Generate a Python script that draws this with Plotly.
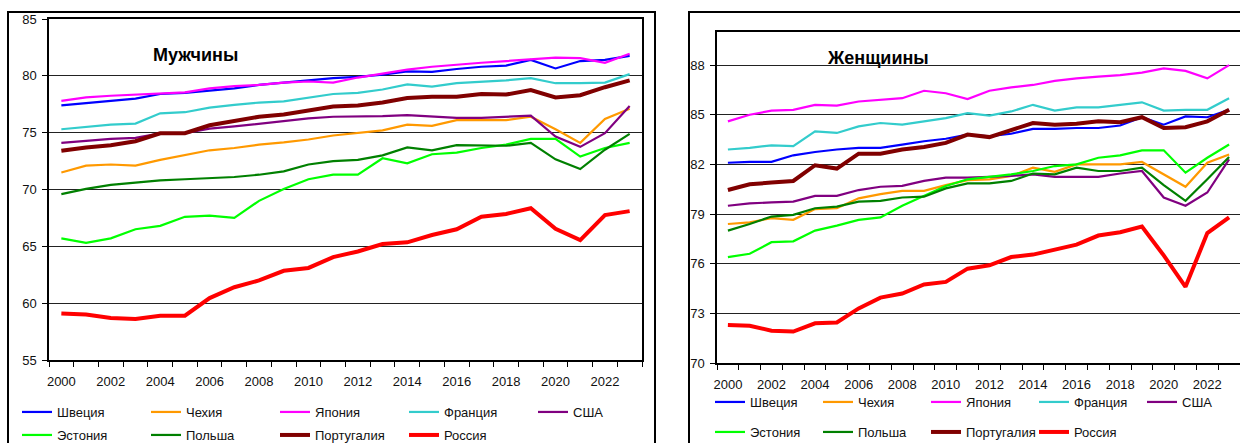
import plotly.graph_objects as go

years = list(range(2000, 2024))
countries = ["Швеция", "Чехия", "Япония", "Франция", "США",
             "Эстония", "Польша", "Португалия", "Россия"]
colors = ["#0000FF", "#FF9900", "#FF00FF", "#33CCCC", "#800080",
          "#00FF00", "#008000", "#800000", "#FF0000"]
widths = [2.2, 2.2, 2.2, 2.2, 2.2, 2.2, 2.2, 4, 4]

# Men life expectancy
men_sweden = [77.4, 77.6, 77.8, 78.0, 78.4, 78.5, 78.7, 78.9, 79.2, 79.4, 79.6, 79.8,
              79.9, 80.1, 80.4, 80.35, 80.6, 80.8, 80.9, 81.4, 80.65, 81.3, 81.4, 81.75]
men_czech = [71.5, 72.1, 72.2, 72.1, 72.6, 73.05, 73.45, 73.65, 73.95, 74.15, 74.4, 74.75,
             75.0, 75.2, 75.7, 75.6, 76.1, 76.1, 76.1, 76.4, 75.3, 74.1, 76.2, 77.1]
men_japan = [77.8, 78.1, 78.25, 78.35, 78.5, 78.55, 78.9, 79.1, 79.2, 79.4, 79.5, 79.4,
             79.85, 80.2, 80.55, 80.8, 81.0, 81.15, 81.3, 81.45, 81.6, 81.55, 81.15, 81.95]
men_france = [75.3, 75.5, 75.7, 75.8, 76.7, 76.8, 77.2, 77.45, 77.65, 77.75, 78.1, 78.4,
              78.5, 78.8, 79.25, 79.05, 79.35, 79.45, 79.6, 79.8, 79.35, 79.35, 79.4, 80.15]
men_usa = [74.1, 74.3, 74.45, 74.55, 74.95, 74.95, 75.35, 75.55, 75.8, 76.05, 76.25, 76.4,
           76.4, 76.45, 76.55, 76.4, 76.3, 76.3, 76.4, 76.5, 74.65, 73.75, 74.95, 77.35]
men_estonia = [65.7, 65.3, 65.7, 66.5, 66.8, 67.6, 67.7, 67.5, 69.0, 70.05, 70.9, 71.3,
               71.3, 72.75, 72.3, 73.1, 73.25, 73.65, 73.95, 74.45, 74.45, 72.9, 73.65, 74.1]
men_poland = [69.6, 70.05, 70.4, 70.6, 70.8, 70.9, 71.0, 71.1, 71.3, 71.6, 72.2, 72.5,
              72.6, 73.0, 73.7, 73.45, 73.9, 73.85, 73.85, 74.1, 72.65, 71.8, 73.5, 74.9]
men_portugal = [73.4, 73.7, 73.9, 74.25, 74.95, 74.95, 75.65, 76.0, 76.4, 76.6, 76.95, 77.3,
                77.4, 77.65, 78.05, 78.15, 78.15, 78.4, 78.35, 78.75, 78.1, 78.3, 79.0, 79.6]
men_russia = [59.1, 59.0, 58.7, 58.6, 58.9, 58.9, 60.45, 61.4, 62.0, 62.85, 63.1, 64.05,
              64.55, 65.2, 65.35, 66.0, 66.5, 67.6, 67.85, 68.35, 66.55, 65.55, 67.75, 68.1]

# Women life expectancy
women_sweden = [82.1, 82.15, 82.15, 82.55, 82.75, 82.9, 83.0, 83.0, 83.2, 83.4, 83.55, 83.8,
                83.7, 83.85, 84.15, 84.15, 84.2, 84.2, 84.35, 84.85, 84.4, 84.9, 84.85, 85.3]
women_czech = [78.4, 78.5, 78.75, 78.65, 79.3, 79.35, 79.95, 80.2, 80.4, 80.4, 80.75, 81.05,
               81.1, 81.3, 81.8, 81.55, 82.0, 82.0, 82.0, 82.15, 81.4, 80.65, 82.1, 82.6]
women_japan = [84.6, 85.0, 85.25, 85.3, 85.6, 85.55, 85.8, 85.9, 86.0, 86.45, 86.3, 85.95,
               86.45, 86.65, 86.8, 87.05, 87.2, 87.3, 87.4, 87.55, 87.8, 87.65, 87.2, 88.0]
women_france = [82.9, 83.0, 83.15, 83.1, 84.0, 83.9, 84.3, 84.5, 84.4, 84.6, 84.8, 85.1,
                84.95, 85.2, 85.6, 85.25, 85.45, 85.45, 85.6, 85.75, 85.25, 85.3, 85.3, 86.0]
women_usa = [79.5, 79.65, 79.7, 79.75, 80.1, 80.1, 80.45, 80.65, 80.7, 81.0, 81.2, 81.2,
             81.25, 81.3, 81.4, 81.25, 81.25, 81.25, 81.45, 81.6, 80.0, 79.5, 80.3, 82.3]
women_estonia = [76.4, 76.6, 77.3, 77.35, 78.0, 78.3, 78.65, 78.8, 79.5, 80.1, 80.7, 81.1,
                 81.25, 81.4, 81.6, 81.9, 82.0, 82.4, 82.55, 82.85, 82.85, 81.5, 82.4, 83.2]
women_poland = [78.0, 78.4, 78.85, 78.95, 79.35, 79.45, 79.75, 79.8, 80.0, 80.05, 80.55, 80.85,
                80.85, 81.0, 81.45, 81.4, 81.8, 81.6, 81.6, 81.8, 80.75, 79.8, 81.1, 82.45]
women_portugal = [80.45, 80.8, 80.9, 81.0, 81.95, 81.75, 82.65, 82.65, 82.9, 83.05, 83.3, 83.8,
                  83.65, 84.1, 84.5, 84.4, 84.45, 84.6, 84.55, 84.85, 84.2, 84.25, 84.6, 85.3]
women_russia = [72.3, 72.25, 71.95, 71.9, 72.4, 72.45, 73.3, 73.95, 74.2, 74.75, 74.9, 75.7,
                75.9, 76.4, 76.55, 76.85, 77.15, 77.7, 77.9, 78.25, 76.5, 74.6, 77.85, 78.8]

men = [men_sweden, men_czech, men_japan, men_france, men_usa,
       men_estonia, men_poland, men_portugal, men_russia]
women = [women_sweden, women_czech, women_japan, women_france, women_usa,
         women_estonia, women_poland, women_portugal, women_russia]

men_yticks = [55, 60, 65, 70, 75, 80, 85]
women_yticks = [70, 73, 76, 79, 82, 85, 88]
xtick_years = list(range(2000, 2023, 2))

W, H = 1240, 443
FONT = "Liberation Sans, Arial, sans-serif"

fig = go.Figure()

for i, name in enumerate(countries):
    fig.add_trace(go.Scatter(
        x=years, y=men[i], name=name, mode="lines",
        line=dict(color=colors[i], width=widths[i]),
        xaxis="x", yaxis="y",
        legend="legend" if i < 5 else "legend2",
    ))
for i, name in enumerate(countries):
    fig.add_trace(go.Scatter(
        x=years, y=women[i], name=name, mode="lines",
        line=dict(color=colors[i], width=widths[i]),
        xaxis="x2", yaxis="y2",
        legend="legend3" if i < 5 else "legend4",
    ))

def px_x(p):
    return p / W

def px_y(p):
    return 1 - p / H

xcommon = dict(
    range=[1999.5, 2023.5], tickmode="array", tickvals=xtick_years,
    ticktext=[str(y) for y in xtick_years], ticks="outside", ticklen=0,
    ticklabelstandoff=9,
    showline=True, linecolor="black", linewidth=1.5, mirror=True,
    showgrid=False, zeroline=False,
    tickfont=dict(family=FONT, size=13, color="#111"),
    minor=dict(tickmode="linear", tick0=1999.5, dtick=1, ticks="outside",
               ticklen=5, tickcolor="black", tickwidth=1, showgrid=False),
    fixedrange=True,
)
ycommon = dict(
    ticks="outside", ticklen=5, tickcolor="black",
    showline=True, linecolor="black", linewidth=1.5, mirror=True,
    showgrid=True, gridcolor="#222", gridwidth=1, zeroline=False,
    tickfont=dict(family=FONT, size=13, color="#111"),
    ticklabelstandoff=3,
    fixedrange=True,
)

leg_common = dict(orientation="h", xanchor="left", yanchor="middle",
                  bgcolor="rgba(0,0,0,0)", borderwidth=0,
                  font=dict(family=FONT, size=13, color="#111"),
                  entrywidthmode="pixels", itemwidth=30, tracegroupgap=0)

fig.update_layout(
    width=W, height=H,
    margin=dict(l=0, r=0, t=0, b=0, autoexpand=False),
    paper_bgcolor="white", plot_bgcolor="white",
    showlegend=True,
    xaxis=dict(domain=[px_x(49), px_x(642)], anchor="y", **xcommon),
    yaxis=dict(domain=[px_y(360), px_y(19)], anchor="x", range=[55, 85],
               tickvals=men_yticks, **ycommon),
    xaxis2=dict(domain=[px_x(717), 1.0], anchor="y2", **xcommon),
    yaxis2=dict(domain=[px_y(363), px_y(32)], anchor="x2", range=[70, 90],
                tickvals=women_yticks, **ycommon),
    legend=dict(x=px_x(17), y=px_y(412), entrywidth=84, **leg_common),
    legend2=dict(x=px_x(17), y=px_y(435), entrywidth=84, **leg_common),
    legend3=dict(x=px_x(710), y=px_y(402), entrywidth=63, **leg_common),
    legend4=dict(x=px_x(710), y=px_y(432), entrywidth=63, **leg_common),
    annotations=[
        dict(text="<b>Мужчины</b>", x=px_x(196), y=px_y(55), xref="paper", yref="paper",
             showarrow=False, xanchor="center", yanchor="middle",
             font=dict(family=FONT, size=18, color="black")),
        dict(text="<b>Женщиины</b>", x=px_x(878), y=px_y(58), xref="paper", yref="paper",
             showarrow=False, xanchor="center", yanchor="middle",
             font=dict(family=FONT, size=18, color="black")),
    ],
    shapes=[
        dict(type="rect", xref="paper", yref="paper",
             x0=px_x(8), x1=px_x(655), y0=-0.05, y1=px_y(12),
             line=dict(color="black", width=2), layer="below"),
        dict(type="rect", xref="paper", yref="paper",
             x0=px_x(689), x1=1.05, y0=-0.05, y1=px_y(12),
             line=dict(color="black", width=2), layer="below"),
    ],
)

fig.write_html(
    "out.html",
    config={"displayModeBar": False},
    post_script="document.body.style.margin='0px';document.body.style.overflow='hidden';",
)
